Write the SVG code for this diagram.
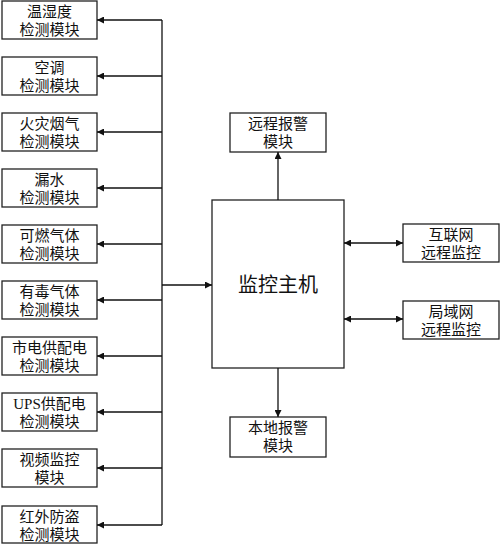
<svg xmlns="http://www.w3.org/2000/svg" width="500" height="545" viewBox="0 0 500 545">
<style>
.b{fill:#fff;stroke:#222;stroke-width:1.3}
.t{font-family:"Liberation Serif","Noto Sans CJK SC",serif;font-size:15px;fill:#111;text-anchor:middle}
.m{font-family:"Liberation Serif","Noto Sans CJK SC",serif;font-size:20px;fill:#111;text-anchor:middle}
.c{fill:none;stroke:#111;stroke-width:1.3}
</style>
<defs>
<marker id="a" viewBox="0 0 10 10" refX="10" refY="5" markerWidth="9" markerHeight="7" markerUnits="userSpaceOnUse" orient="auto-start-reverse">
<path d="M0,0L10,5L0,10z" fill="#111"/>
</marker>
</defs>
<rect width="500" height="545" fill="#fff"/>
<g id="n1"><rect class="b" x="2" y="1" width="95" height="38"/><text class="t" x="49.5" y="17">温湿度</text><text class="t" x="49.5" y="35">检测模块</text></g>
<g id="n2"><rect class="b" x="2" y="57" width="95" height="38"/><text class="t" x="49.5" y="73">空调</text><text class="t" x="49.5" y="91">检测模块</text></g>
<g id="n3"><rect class="b" x="2" y="113" width="95" height="38"/><text class="t" x="49.5" y="129">火灾烟气</text><text class="t" x="49.5" y="147">检测模块</text></g>
<g id="n4"><rect class="b" x="2" y="169" width="95" height="38"/><text class="t" x="49.5" y="185">漏水</text><text class="t" x="49.5" y="203">检测模块</text></g>
<g id="n5"><rect class="b" x="2" y="225" width="95" height="38"/><text class="t" x="49.5" y="241">可燃气体</text><text class="t" x="49.5" y="259">检测模块</text></g>
<g id="n6"><rect class="b" x="2" y="281" width="95" height="38"/><text class="t" x="49.5" y="297">有毒气体</text><text class="t" x="49.5" y="315">检测模块</text></g>
<g id="n7"><rect class="b" x="2" y="337" width="95" height="38"/><text class="t" x="49.5" y="353">市电供配电</text><text class="t" x="49.5" y="371">检测模块</text></g>
<g id="n8"><rect class="b" x="2" y="393" width="95" height="38"/><text class="t" x="49.5" y="409">UPS供配电</text><text class="t" x="49.5" y="427">检测模块</text></g>
<g id="n9"><rect class="b" x="2" y="449" width="95" height="38"/><text class="t" x="49.5" y="465">视频监控</text><text class="t" x="49.5" y="483">模块</text></g>
<g id="n10"><rect class="b" x="2" y="506" width="95" height="37"/><text class="t" x="49.5" y="522">红外防盗</text><text class="t" x="49.5" y="540">检测模块</text></g>
<g id="host"><rect class="b" x="212" y="200" width="132" height="168"/><text class="m" x="278" y="292">监控主机</text></g>
<g id="remote"><rect class="b" x="230" y="113" width="96" height="39"/><text class="t" x="278" y="129">远程报警</text><text class="t" x="278" y="147">模块</text></g>
<g id="local"><rect class="b" x="230" y="417" width="96" height="40"/><text class="t" x="278" y="433">本地报警</text><text class="t" x="278" y="451">模块</text></g>
<g id="inet"><rect class="b" x="403" y="224" width="96" height="38"/><text class="t" x="451" y="240">互联网</text><text class="t" x="451" y="258">远程监控</text></g>
<g id="lan"><rect class="b" x="403" y="301" width="96" height="38"/><text class="t" x="451" y="317">局域网</text><text class="t" x="451" y="335">远程监控</text></g>
<g id="connectors">
<path class="c" d="M162,20V525"/>
<path class="c" d="M162,20H97" marker-end="url(#a)"/>
<path class="c" d="M162,76H97" marker-end="url(#a)"/>
<path class="c" d="M162,132H97" marker-end="url(#a)"/>
<path class="c" d="M162,188H97" marker-end="url(#a)"/>
<path class="c" d="M162,244H97" marker-end="url(#a)"/>
<path class="c" d="M162,300H97" marker-end="url(#a)"/>
<path class="c" d="M162,356H97" marker-end="url(#a)"/>
<path class="c" d="M162,412H97" marker-end="url(#a)"/>
<path class="c" d="M162,468H97" marker-end="url(#a)"/>
<path class="c" d="M162,525H97" marker-end="url(#a)"/>
<path class="c" d="M162,285H212" marker-end="url(#a)"/>
<path class="c" d="M278,200V152" marker-end="url(#a)"/>
<path class="c" d="M278,368V417" marker-end="url(#a)"/>
<path class="c" d="M344,243H403" marker-start="url(#a)" marker-end="url(#a)"/>
<path class="c" d="M344,319H403" marker-start="url(#a)" marker-end="url(#a)"/>
</g>
</svg>
